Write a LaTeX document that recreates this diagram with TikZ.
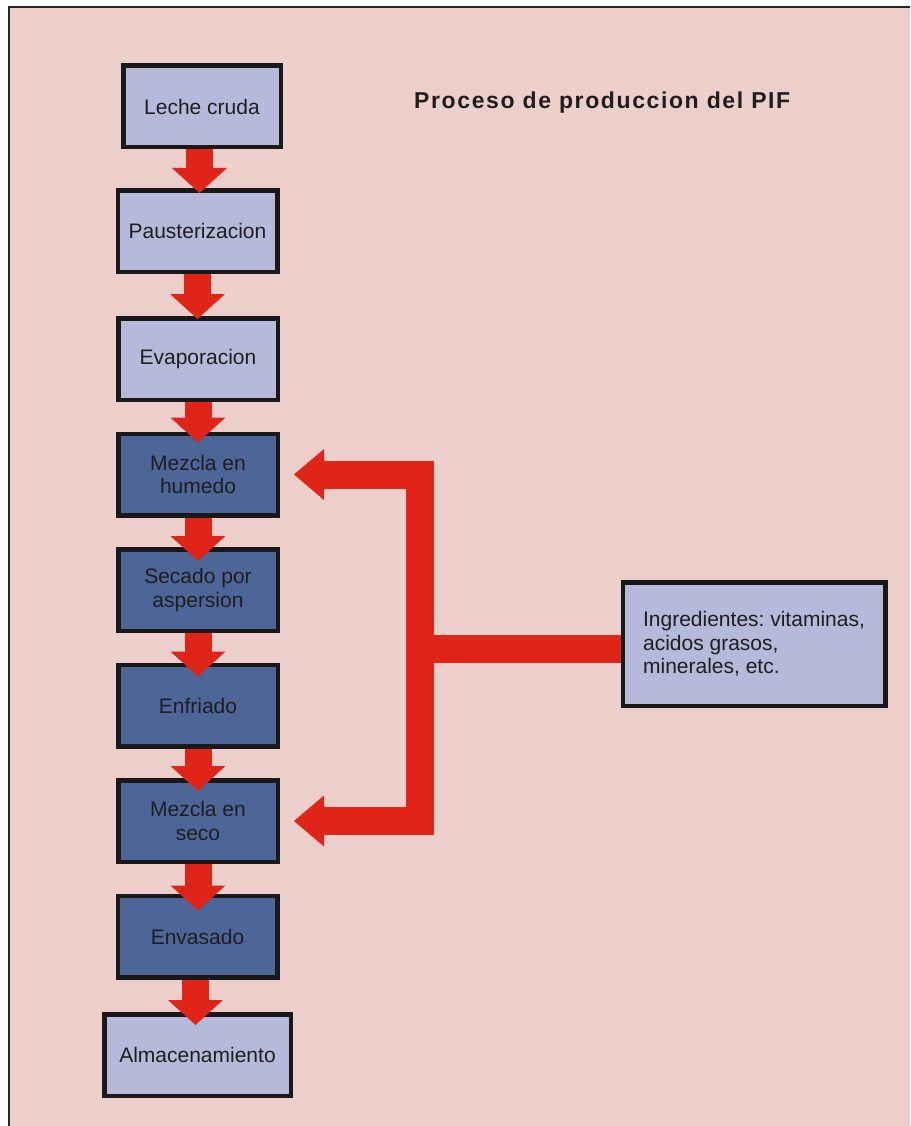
\documentclass[tikz,border=0pt]{standalone}
\usepackage{fontspec}
\usepackage{graphicx}
\setmainfont{Liberation Sans}
\newfontfamily\titlefont[LetterSpace=7]{Liberation Sans}
\usetikzlibrary{arrows.meta}
\definecolor{bgpink}{RGB}{236,206,202}
\definecolor{lightbox}{RGB}{182,186,218}
\definecolor{darkbox}{RGB}{77,101,151}
\definecolor{flowred}{RGB}{224,36,24}
\definecolor{txt}{RGB}{30,30,30}
\tikzset{feedtip/.tip={Triangle[width=51pt,length=30pt,line width=0pt]}}
\frenchspacing
\begin{document}
\begin{tikzpicture}[x=1pt,y=-1pt,
  box/.style={draw=black!90, line width=4.5pt, minimum width=159.5pt, minimum height=81.5pt,
    inner sep=2pt, align=center, font=\fontsize{21}{23.5}\selectfont, text=txt},
  lightstep/.style={box, fill=lightbox},
  darkstep/.style={box, fill=darkbox},
  down/.style={draw=flowred, line width=27pt,
    -{Triangle[width=55pt,length=25pt,line width=0pt]}},
  feed/.style={draw=flowred, line width=28pt, line join=miter}
]
% page and frame
\useasboundingbox (0,0) rectangle (910,1126);
\fill[white] (0,0) rectangle (910,1126);
\fill[bgpink] (9,7) rectangle (910,1126);
\draw[black!85, line width=2pt] (9,1126) -- (9,7) -- (910,7);

% title
\node[anchor=base west, inner sep=0pt, text=txt,
  font=\fontsize{23}{26}\selectfont\titlefont\bfseries] (title) at (414,109)
  {Proceso de produccion del PIF};

% process boxes
\node[lightstep, minimum width=157.5pt] (leche) at (202,106.5) {Leche cruda};
\node[lightstep] (paus) at (197.5,231) {Pausterizacion};
\node[lightstep] (evap) at (198,359) {Evaporacion};
\node[darkstep] (hum) at (198,474.5) {Mezcla en\\humedo};
\node[darkstep] (sec) at (198,590) {Secado por\\aspersion};
\node[darkstep] (enf) at (198,705.5) {Enfriado};
\node[darkstep] (seco) at (198,821) {Mezcla en\\seco};
\node[darkstep] (env) at (197.5,936.5) {Envasado};
\node[lightstep, minimum width=186.5pt] (alm) at (197.5,1055) {Almacenamiento};

% ingredients box
\node[lightstep, minimum width=262.5pt, minimum height=123.5pt,
  align=left] (ingr) at (754,644)
  {Ingredientes: vitaminas,\\acidos grasos,\\minerales, etc.};

% vertical flow arrows
\draw[down, shorten >=-5pt] ([xshift=-2.5pt]leche.south) -- ([xshift=-2.5pt]leche.south |- paus.north);
\draw[down, shorten >=-3pt] (paus.south) -- (paus.south |- evap.north);
\draw[down, shorten >=-11pt] (evap.south) -- (evap.south |- hum.north);
\draw[down, shorten >=-14pt] (hum.south) -- (hum.south |- sec.north);
\draw[down, shorten >=-14pt] (sec.south) -- (sec.south |- enf.north);
\draw[down, shorten >=-13pt] (enf.south) -- (enf.south |- seco.north);
\draw[down, shorten >=-17pt] (seco.south) -- (seco.south |- env.north);
\draw[down, shorten >=-13pt] ([xshift=-2pt]env.south) -- ([xshift=-2pt]env.south |- alm.north);

% ingredient feed connector
\coordinate (jm) at (420,649);
\draw[feed] (jm) -- (jm -| ingr.west);
\draw[feed, feedtip-feedtip] ([xshift=14pt]hum.east) -| (jm) |- ([xshift=14pt]seco.east);
\end{tikzpicture}
\end{document}
